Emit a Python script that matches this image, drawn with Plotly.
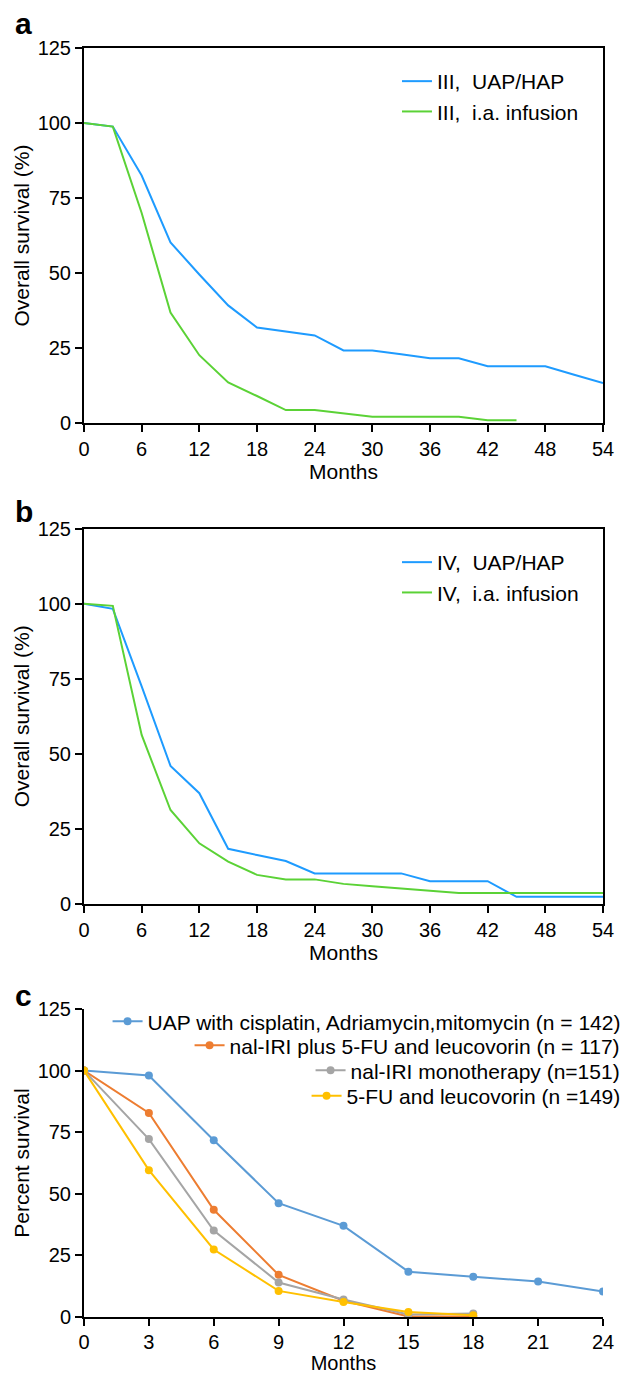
import plotly.graph_objects as go

# ---------------- data ----------------
months_ab = [0, 3, 6, 9, 12, 15, 18, 21, 24, 27, 30, 33, 36, 39, 42, 45, 48, 51, 54]

a_uap = [100, 98.8, 82.5, 60.2, 49.5, 39.2, 31.8, 30.5, 29.2, 24.2, 24.2, 22.9, 21.6, 21.6, 18.9, 18.9, 18.9, 16.1, 13.3]
months_a_ia = [0, 3, 6, 9, 12, 15, 18, 21, 24, 27, 30, 33, 36, 39, 42, 45]
a_ia = [100, 98.8, 70, 36.8, 22.6, 13.5, 9.0, 4.3, 4.3, 3.2, 2.1, 2.1, 2.1, 2.1, 0.9, 0.9]

b_uap = [100, 98.3, 72.5, 46.0, 36.9, 18.4, 16.3, 14.3, 10.2, 10.2, 10.2, 10.2, 7.6, 7.6, 7.6, 2.4, 2.4, 2.4, 2.4]
b_ia = [100, 99.3, 56.3, 31.3, 20.2, 14.1, 9.7, 8.2, 8.2, 6.7, 5.9, 5.1, 4.3, 3.7, 3.7, 3.7, 3.7, 3.7, 3.7]

months_c_uap = [0, 3, 6, 9, 12, 15, 18, 21, 24]
c_uap = [100, 98.0, 71.7, 46.2, 37.0, 18.4, 16.3, 14.4, 10.3]
months_c = [0, 3, 6, 9, 12, 15, 18]
c_nal_5fu = [100, 82.8, 43.5, 17.1, 6.6, 0.2, 0.2]
c_nal_mono = [100, 72.2, 35.1, 14.0, 7.1, 1.0, 1.4]
c_5fu = [100, 59.6, 27.4, 10.6, 6.1, 2.0, 0.7]

names_a = ["III,  UAP/HAP", "III,  i.a. infusion"]
names_b = ["IV,  UAP/HAP", "IV,  i.a. infusion"]
names_c = ["UAP with cisplatin, Adriamycin,mitomycin (n = 142)",
           "nal-IRI plus 5-FU and leucovorin (n = 117)",
           "nal-IRI monotherapy (n=151)",
           "5-FU and leucovorin (n =149)"]

ticks_ab = list(range(0, 55, 6))
ticks_c = list(range(0, 25, 3))
ticks_y = [0, 25, 50, 75, 100, 125]

BLUE = "#1E9BFF"
GREEN = "#5BD236"
C_COLORS = ["#5B9BD5", "#ED7D31", "#A5A5A5", "#FFC000"]
FONT = "Liberation Sans, Arial, sans-serif"

fig = go.Figure()

# panel a
fig.add_trace(go.Scatter(x=months_ab, y=a_uap, mode="lines", name=names_a[0],
                         line=dict(color=BLUE, width=2), xaxis="x", yaxis="y", legend="legend"))
fig.add_trace(go.Scatter(x=months_a_ia, y=a_ia, mode="lines", name=names_a[1],
                         line=dict(color=GREEN, width=2), xaxis="x", yaxis="y", legend="legend"))
# panel b
fig.add_trace(go.Scatter(x=months_ab, y=b_uap, mode="lines", name=names_b[0],
                         line=dict(color=BLUE, width=2), xaxis="x2", yaxis="y2", legend="legend2"))
fig.add_trace(go.Scatter(x=months_ab, y=b_ia, mode="lines", name=names_b[1],
                         line=dict(color=GREEN, width=2), xaxis="x2", yaxis="y2", legend="legend2"))
# panel c
c_series = [(months_c_uap, c_uap), (months_c, c_nal_5fu), (months_c, c_nal_mono), (months_c, c_5fu)]
for i, (xs, ys) in enumerate(c_series):
    fig.add_trace(go.Scatter(x=xs, y=ys, mode="lines+markers", name=names_c[i],
                             line=dict(color=C_COLORS[i], width=2),
                             marker=dict(color=C_COLORS[i], size=8),
                             xaxis="x3", yaxis="y3", legend=f"legend{3 + i}"))

W, H = 638, 1374
ML, MR, MT, MB = 84, 25, 48, 57
PH = H - MT - MB
PW = W - ML - MR


def py(p):
    """pixel y -> paper fraction"""
    return (H - MB - p) / PH


def px(p):
    """pixel x -> paper fraction"""
    return (p - ML) / PW


axis_common = dict(showgrid=False, zeroline=False, showline=True, linecolor="black", linewidth=2,
                   ticks="outside", ticklen=7, tickwidth=2, tickcolor="black", automargin=False,
                   tickfont=dict(size=20, color="black", family=FONT))
title_font = dict(size=21, color="black", family=FONT)

xa = dict(axis_common, range=[0, 54], tickvals=ticks_ab,
          title=dict(text="Months", font=title_font, standoff=5))
ya = dict(axis_common, range=[0, 125], tickvals=ticks_y,
          title=dict(text="Overall survival (%)", font=title_font, standoff=2))

layout = dict(
    width=W, height=H,
    margin=dict(l=ML, r=MR, t=MT, b=MB),
    paper_bgcolor="white", plot_bgcolor="white",
    font=dict(family=FONT, color="black"),
    xaxis=dict(xa, domain=[0, 1], anchor="y", mirror=True),
    yaxis=dict(ya, domain=[py(423), 1.0], anchor="x", mirror=True),
    xaxis2=dict(xa, domain=[0, 1], anchor="y2", mirror=True),
    yaxis2=dict(ya, domain=[py(904), py(528.7)], anchor="x2", mirror=True),
    xaxis3=dict(axis_common, range=[0, 24], tickvals=ticks_c, domain=[0, 1], anchor="y3",
                ticklabelstandoff=-1,
                title=dict(text="Months", font=dict(size=20, color="black", family=FONT), standoff=7)),
    yaxis3=dict(axis_common, range=[0, 125], tickvals=ticks_y, domain=[0, py(1009)], anchor="x3",
                title=dict(text="Percent survival", font=title_font, standoff=2)),
)

leg_base = dict(bgcolor="rgba(0,0,0,0)", borderwidth=0, tracegroupgap=0,
                font=dict(size=21, color="black", family=FONT))
layout["legend"] = dict(leg_base, x=px(403), xanchor="left", y=py(96.5), yanchor="middle")
layout["legend2"] = dict(leg_base, x=px(403), xanchor="left", y=py(577.5), yanchor="middle")
c_leg_y = [1021.7, 1045.7, 1070.7, 1096]
for i in range(4):
    key = f"legend{3 + i}"
    layout[key] = dict(leg_base, x=px(636), xanchor="right", y=py(c_leg_y[i]), yanchor="middle")

fig.update_layout(**layout)

for lab, ypx in [("a", 23), ("b", 512), ("c", 995)]:
    fig.add_annotation(text=f"<b>{lab}</b>", xref="paper", yref="paper", x=px(12), y=py(ypx),
                       xanchor="left", yanchor="middle", showarrow=False,
                       font=dict(size=30, color="black", family=FONT))

fig.write_html("out.html", config={"displayModeBar": False},
               post_script="document.body.style.margin='0';document.body.style.overflow='hidden';")
